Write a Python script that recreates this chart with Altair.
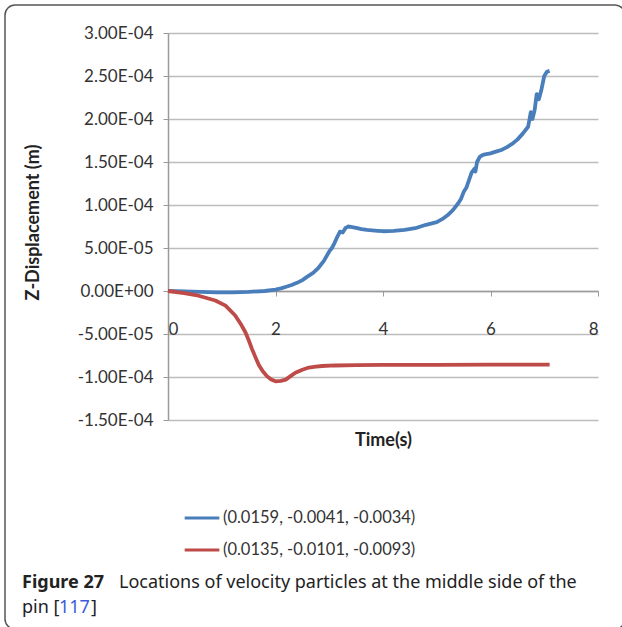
import json
import altair as alt
import pandas as pd

# Z-displacement of two tracked particles over time
BLUE_NAME = "(0.0159, -0.0041, -0.0034)"
BLUE_T = [0.0, 0.3, 0.6, 0.9, 1.2, 1.5, 1.8, 2.0, 2.1, 2.2, 2.3, 2.4, 2.5, 2.6,
          2.7, 2.8, 2.9, 3.0, 3.05, 3.1, 3.15, 3.2, 3.25, 3.3, 3.35, 3.4, 3.5,
          3.6, 3.7, 3.8, 3.9, 4.0, 4.2, 4.4, 4.6, 4.8, 5.0, 5.1, 5.2, 5.3, 5.4,
          5.45, 5.5, 5.55, 5.6, 5.65, 5.7, 5.72, 5.75, 5.8, 5.85, 5.9, 6.0, 6.1,
          6.2, 6.3, 6.4, 6.5, 6.6, 6.7, 6.75, 6.78, 6.82, 6.86, 6.9, 6.95, 7.0,
          7.05, 7.1]
BLUE_Z = [0.0, -0.05e-5, -0.1e-5, -0.15e-5, -0.15e-5, -0.1e-5, 0.0, 0.15e-5,
          0.3e-5, 0.5e-5, 0.7e-5, 0.95e-5, 1.27e-5, 1.7e-5, 2.1e-5, 2.7e-5,
          3.5e-5, 4.6e-5, 5.0e-5, 5.6e-5, 6.3e-5, 6.9e-5, 6.8e-5, 7.3e-5,
          7.5e-5, 7.45e-5, 7.35e-5, 7.2e-5, 7.1e-5, 7.05e-5, 7.0e-5, 6.95e-5,
          7.0e-5, 7.1e-5, 7.3e-5, 7.7e-5, 8.0e-5, 8.35e-5, 8.8e-5, 9.4e-5,
          10.2e-5, 10.7e-5, 11.5e-5, 12.0e-5, 12.9e-5, 13.8e-5, 14.2e-5,
          13.9e-5, 15.0e-5, 15.6e-5, 15.8e-5, 15.9e-5, 16.0e-5, 16.2e-5,
          16.4e-5, 16.7e-5, 17.1e-5, 17.6e-5, 18.3e-5, 19.1e-5, 20.8e-5,
          20.0e-5, 21.0e-5, 22.9e-5, 22.3e-5, 23.5e-5, 25.0e-5, 25.5e-5,
          25.6e-5]

RED_NAME = "(0.0135, -0.0101, -0.0093)"
RED_T = [0.0, 0.3, 0.57, 0.88, 1.07, 1.25, 1.35, 1.44, 1.5, 1.56, 1.62, 1.69,
         1.76, 1.84, 1.92, 2.0, 2.1, 2.19, 2.28, 2.37, 2.5, 2.62, 2.75, 2.87,
         3.1, 3.5, 4.0, 5.0, 6.0, 7.1]
RED_Z = [0.0, -0.25e-5, -0.55e-5, -1.1e-5, -1.7e-5, -2.85e-5, -3.8e-5,
         -4.8e-5, -5.7e-5, -6.7e-5, -7.6e-5, -8.6e-5, -9.3e-5, -9.9e-5,
         -10.3e-5, -10.5e-5, -10.45e-5, -10.3e-5, -9.9e-5, -9.5e-5, -9.15e-5,
         -8.9e-5, -8.8e-5, -8.72e-5, -8.66e-5, -8.62e-5, -8.6e-5, -8.58e-5,
         -8.56e-5, -8.55e-5]

X_TICKS = [0, 2, 4, 6, 8]
Y_TICKS = [-1.5e-4, -1.0e-4, -5.0e-5, 0.0, 5.0e-5, 1.0e-4, 1.5e-4, 2.0e-4,
           2.5e-4, 3.0e-4]
Y_TICK_LABELS = ["-1.50E-04", "-1.00E-04", "-5.00E-05", "0.00E+00",
                 "5.00E-05", "1.00E-04", "1.50E-04", "2.00E-04", "2.50E-04",
                 "3.00E-04"]

SERIES = [BLUE_NAME, RED_NAME]
COLORS = ["#4a7ebb", "#be4b48"]

W, H = 430, 387
Y_MIN, Y_MAX = -1.5e-4, 3.0e-4
ZERO_PX = H * Y_MAX / (Y_MAX - Y_MIN)

rows = [{"t": t, "z": z, "series": BLUE_NAME, "order": i}
        for i, (t, z) in enumerate(zip(BLUE_T, BLUE_Z))]
rows += [{"t": t, "z": z, "series": RED_NAME, "order": i}
         for i, (t, z) in enumerate(zip(RED_T, RED_Z))]
df = pd.DataFrame(rows)

FONT = "Lato"
label_lookup = json.dumps(Y_TICK_LABELS).replace('"', "'")

lines = alt.Chart(df).mark_line(strokeWidth=3.8, strokeJoin="round").encode(
    x=alt.X("t:Q",
            scale=alt.Scale(domain=[0, 8], nice=False),
            axis=alt.Axis(values=X_TICKS, grid=False, offset=-(H - ZERO_PX),
                          title="Time(s)", labelPadding=25, labelFontSize=17,
                          labelBaseline="top",
                          titleX=W / 2, titleY=H - ZERO_PX + 20,
                          titleBaseline="middle", titleFontSize=18,
                          titleFontWeight="bold", tickSize=5)),
    y=alt.Y("z:Q",
            scale=alt.Scale(domain=[Y_MIN, Y_MAX], nice=False, zero=False),
            axis=alt.Axis(values=Y_TICKS,
                          labelExpr=f"{label_lookup}[round(datum.value / 5e-5) + 3]",
                          title="Z-Displacement (m)", labelFontSize=17,
                          labelPadding=10, tickSize=5,
                          titleX=-135, titleY=189, titleAngle=-90,
                          titleAlign="center", titleBaseline="middle",
                          titleFontSize=18, titleFontWeight="bold")),
    color=alt.Color("series:N",
                    scale=alt.Scale(domain=SERIES, range=COLORS),
                    legend=alt.Legend(title=None, orient="none",
                                      legendX=15, legendY=466,
                                      symbolType="stroke", symbolSize=1200,
                                      symbolStrokeWidth=3, labelFontSize=16.5,
                                      labelOffset=2, rowPadding=4,
                                      labelLimit=400, labelColor="#333")),
    order="order:Q",
)

one = pd.DataFrame({"k": [0]})

frame = alt.Chart(one).mark_rect(
    cornerRadius=10, fillOpacity=0, stroke="#555", strokeWidth=1.5
).encode(x=alt.value(-163), x2=alt.value(457), y=alt.value(-28), y2=alt.value(596))


def caption(text, x, y, bold=False, color="#222"):
    return alt.Chart(one).mark_text(
        text=text, align="left", baseline="alphabetic", font="Noto Sans",
        fontSize=18, fontWeight="bold" if bold else "normal", color=color
    ).encode(x=alt.value(x), y=alt.value(y))


cap = [
    caption("Figure 27", -146, 555, bold=True),
    caption("Locations of velocity particles at the middle side of the", -49, 555),
    caption("pin [", -146, 580),
    caption("117", -109, 580, color="#3b5bdb"),
    caption("]", -77, 580),
]

chart = alt.layer(frame, lines, *cap).properties(
    width=W, height=H,
    padding={"left": 168, "top": 33, "right": 24, "bottom": 207},
    autosize=alt.AutoSizeParams(type="none"),
    background="white",
).configure_view(stroke=None).configure_axis(
    labelFont=FONT, titleFont=FONT, labelColor="#333", titleColor="#222",
    domainColor="#9a9a9a", tickColor="#9a9a9a", gridColor="#bdbdbd",
    gridWidth=1.5, domainWidth=1.5,
).configure_legend(labelFont=FONT)

chart.save("out.html", embed_options={"renderer": "svg", "actions": False})
